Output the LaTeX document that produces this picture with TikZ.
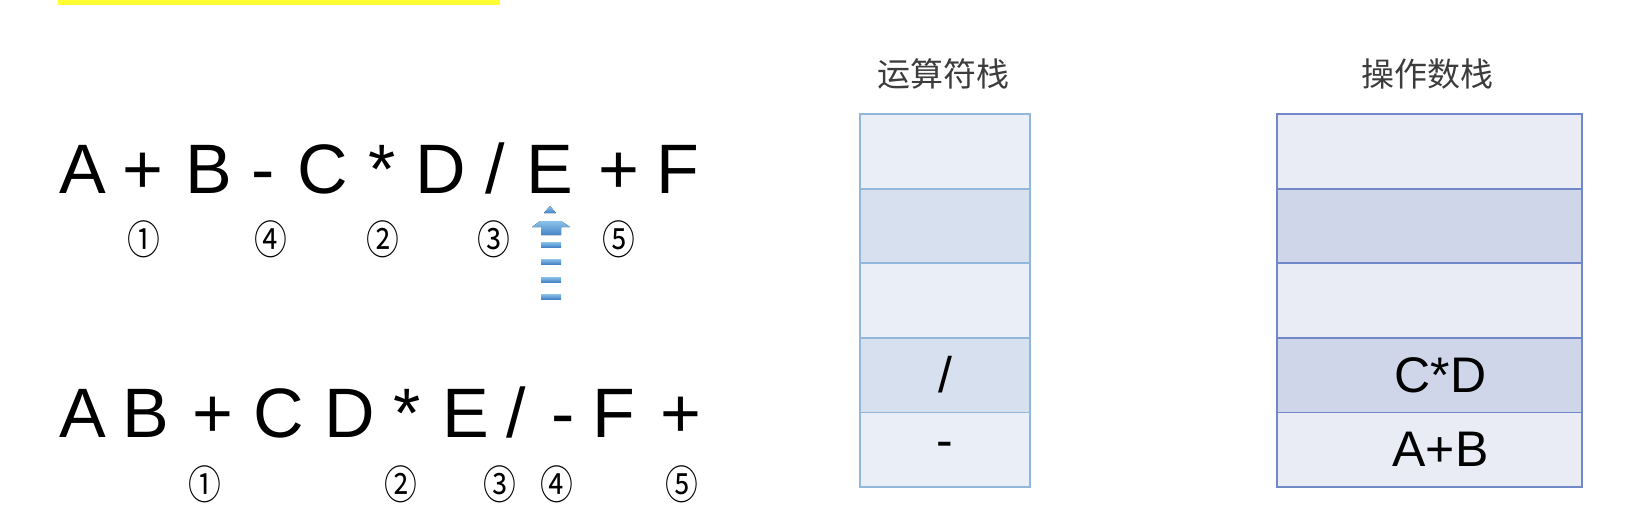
\documentclass[tikz,border=0pt]{standalone}
\usepackage{graphicx}
\usepackage{fontspec}
\setmainfont{Liberation Sans}
\newfontfamily\cjk{Noto Sans CJK SC}
\definecolor{hilite}{RGB}{255,255,51}
\definecolor{opline}{RGB}{147,183,218}
\definecolor{oplight}{RGB}{234,238,246}
\definecolor{opdark}{RGB}{214,224,238}
\definecolor{numline}{RGB}{112,136,200}
\definecolor{numlight}{RGB}{233,235,245}
\definecolor{numdark}{RGB}{208,214,234}
\definecolor{titlegray}{RGB}{60,60,60}
\definecolor{arrowtop}{RGB}{140,194,234}
\definecolor{arrowbot}{RGB}{70,132,200}
\newcommand{\circnum}[1]{\scalebox{.82}[1]{#1}}

\begin{document}
\begin{tikzpicture}[x=1pt,y=-1pt,
    tok/.style={anchor=base, inner sep=0pt, font=\fontsize{70}{80}\selectfont},
    num/.style={inner sep=0pt, font=\cjk\fontsize{40}{44}\selectfont},
    stacktitle/.style={inner sep=0pt, text=titlegray, font=\cjk\fontsize{33}{40}\selectfont},
    opcell/.style={draw=opline, line width=1.8pt, minimum width=170pt, minimum height=74.6pt, inner sep=0pt, font=\fontsize{50}{60}\selectfont},
    numcell/.style={draw=numline, line width=1.8pt, minimum width=305pt, minimum height=74.6pt, inner sep=0pt, font=\fontsize{50}{60}\selectfont},
    stripe/.style={top color=arrowtop, bottom color=arrowbot, draw=none}]
        \useasboundingbox (0,0) rectangle (1632,527);
        \fill[hilite] (58,0) rectangle (500,5);

        % infix expression
        \node[tok] (a1) at (83,193){A};
        \node[tok] (p1) at (143,193){+};
        \node[tok] (b1) at (209,193){B};
        \node[tok] (m1) at (263,193){-};
        \node[tok] (c1) at (323,193){C};
        \node[tok] (t1) at (382,193){*};
        \node[tok] (d1) at (441,193){D};
        \node[tok] (s1) at (495,193){/};
        \node[tok] (e1) at (550,193){E};
        \node[tok] (q1) at (619,193){+};
        \node[tok] (f1) at (678,193){F};
        \node[num] (n11) at (144,239){\circnum{①}};
        \node[num] (n14) at (271,239){\circnum{④}};
        \node[num] (n12) at (383,239){\circnum{②}};
        \node[num] (n13) at (494,239){\circnum{③}};
        \node[num] (n15) at (619,239){\circnum{⑤}};

        % scan pointer
        \fill[stripe] (550,206) -- (556,213) -- (544,213) -- cycle;
        \fill[stripe] (540,221) -- (561,221) -- (570,227) -- (561,227) -- (561,235) -- (541,235) -- (541,227) -- (532,227) -- cycle;
        \fill[stripe] (541,242) rectangle (561,247);
        \fill[stripe] (541,259) rectangle (561,264);
        \fill[stripe] (541,277) rectangle (561,282);
        \fill[stripe] (541,294) rectangle (561,299);

        % postfix expression
        \node[tok] (a2) at (83,437){A};
        \node[tok] (b2) at (146,437){B};
        \node[tok] (p2) at (213,437){+};
        \node[tok] (c2) at (279,437){C};
        \node[tok] (d2) at (350,437){D};
        \node[tok] (t2) at (407,437){*};
        \node[tok] (e2) at (466,437){E};
        \node[tok] (s2) at (516,437){/};
        \node[tok] (m2) at (563,437){-};
        \node[tok] (f2) at (614,437){F};
        \node[tok] (q2) at (681,437){+};
        \node[num] (n21) at (205,484){\circnum{①}};
        \node[num] (n22) at (401,484){\circnum{②}};
        \node[num] (n23) at (500,484){\circnum{③}};
        \node[num] (n24) at (557,484){\circnum{④}};
        \node[num] (n25) at (682,484){\circnum{⑤}};

        % operator stack
        \node[stacktitle] (optitle) at (943,74){运算符栈};
        \node[opcell, fill=oplight] (op5) at (945,151.3){};
        \node[opcell, fill=opdark] (op4) at (945,225.9){};
        \node[opcell, fill=oplight] (op3) at (945,300.5){};
        \node[opcell, fill=opdark] (op2) at (945,375.1){/};
        \node[opcell, fill=oplight] (op1) at (945,449.7){-};

        % operand stack
        \node[stacktitle] (numtitle) at (1427,74){操作数栈};
        \node[numcell, fill=numlight] (nm5) at (1429.5,151.3){};
        \node[numcell, fill=numdark] (nm4) at (1429.5,225.9){};
        \node[numcell, fill=numlight] (nm3) at (1429.5,300.5){};
        \node[numcell, fill=numdark] (nm2) at (1429.5,375.1){\hspace{22pt}C*D};
        \node[numcell, fill=numlight] (nm1) at (1429.5,449.7){\hspace{22pt}A+B};
    \end{tikzpicture}
\end{document}
